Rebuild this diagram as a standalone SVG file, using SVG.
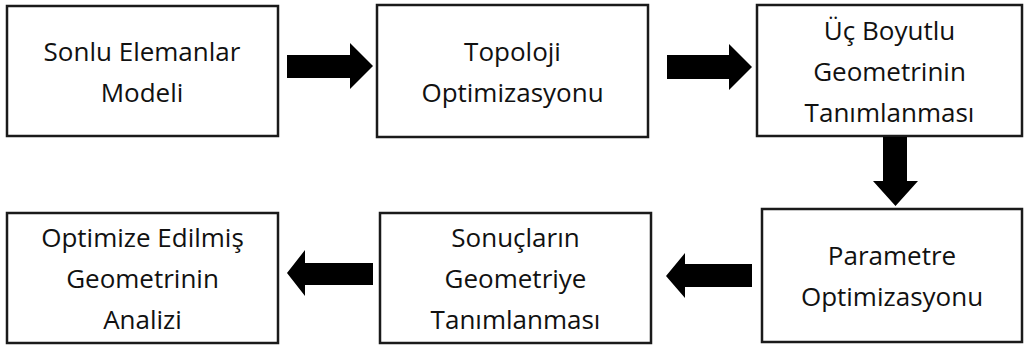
<svg xmlns="http://www.w3.org/2000/svg" width="1025" height="345" viewBox="0 0 1025 345">
<style>
.box{fill:#fff;stroke:#1a1a1a;stroke-width:2.5}
.t{font-family:"Open Sans","Noto Sans",sans-serif;font-size:26px;fill:#111;text-anchor:middle}
.arr{fill:#000}
</style>
<rect width="1025" height="345" fill="#fff"/>
<g id="n1"><rect class="box" x="7" y="6" width="271" height="130"/>
<text class="t" x="142" y="60.5">Sonlu Elemanlar</text><text class="t" x="142" y="101.5">Modeli</text></g>
<g id="n2"><rect class="box" x="377" y="5" width="271" height="132"/>
<text class="t" x="512.5" y="60.5">Topoloji</text><text class="t" x="512.5" y="101.5">Optimizasyonu</text></g>
<g id="n3"><rect class="box" x="757" y="5" width="265" height="131"/>
<text class="t" x="889.5" y="39.5">Üç Boyutlu</text><text class="t" x="889.5" y="80.5">Geometrinin</text><text class="t" x="889.5" y="121.5">Tanımlanması</text></g>
<g id="n4"><rect class="box" x="762" y="209" width="260" height="133"/>
<text class="t" x="892" y="265">Parametre</text><text class="t" x="892" y="306">Optimizasyonu</text></g>
<g id="n5"><rect class="box" x="380" y="213" width="271" height="130"/>
<text class="t" x="515.5" y="247">Sonuçların</text><text class="t" x="515.5" y="288">Geometriye</text><text class="t" x="515.5" y="329">Tanımlanması</text></g>
<g id="n6"><rect class="box" x="7" y="213" width="271" height="130"/>
<text class="t" x="142.5" y="247">Optimize Edilmiş</text><text class="t" x="142.5" y="288">Geometrinin</text><text class="t" x="142.5" y="329">Analizi</text></g>
<g id="connectors">
<polygon class="arr" points="287,55 350,55 350,43 373,66 350,89 350,78 287,78"/>
<polygon class="arr" points="667,55 729,55 729,44 752,67 729,90 729,79 667,79"/>
<polygon class="arr" points="883,137 907,137 907,181 918,181 895.5,206 873,181 883,181"/>
<polygon class="arr" points="752,264 685,264 685,253 666,276 685,298 685,287 752,287"/>
<polygon class="arr" points="373,263 305,263 305,250 287,273 305,296 305,285 373,285"/>
</g>
</svg>
